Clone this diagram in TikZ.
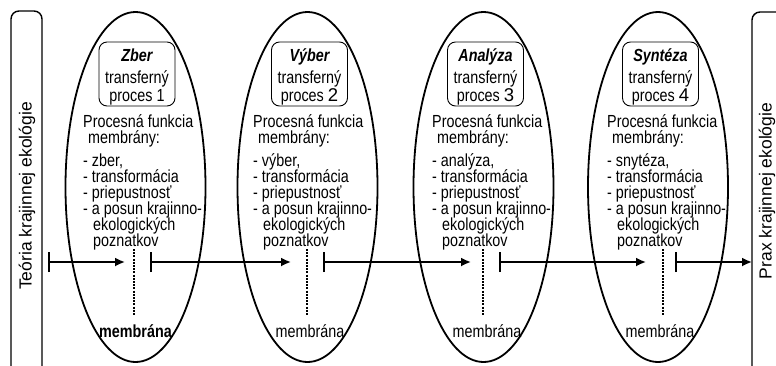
\documentclass[tikz,border=0pt]{standalone}
\usepackage{fontspec}
\setmainfont{Liberation Sans}[FakeStretch=0.82]
\newfontfamily\widefont{Liberation Sans}
\usetikzlibrary{shapes.geometric,arrows.meta}

\newcommand\procblock[1]{\vtop{\baselineskip=16pt\lineskiplimit=-100pt\lineskip=0pt
 \hbox{Procesná funkcia}\hbox{\hspace*{5pt}membrány:}\vskip7pt
 \hbox{- #1,}\hbox{- transformácia}\hbox{- priepustnosť}\hbox{- a posun krajinno-}%
 \hbox{\hspace*{10pt}ekologických}\hbox{\hspace*{10pt}poznatkov}}}
\newcommand\ctr[1]{\hbox to 0pt{\hss#1\hss}}
\newcommand\titleblock[2]{\vtop{\lineskiplimit=-100pt\lineskip=0pt\baselineskip=22pt
 \ctr{\bfseries\itshape #1}\ctr{transferný}\baselineskip=18pt\ctr{proces #2}}}
\newcommand\bigdigit[1]{{\widefont\fontsize{18.5}{18.5}\selectfont #1}}

\tikzset{
 ell/.style={draw, ellipse, line width=1.8pt, minimum width=140pt, minimum height=350pt, inner sep=0pt},
 procbox/.style={draw, rounded corners=8pt, line width=0.9pt, minimum width=76pt, minimum height=64pt, inner sep=0pt},
 boxtxt/.style={anchor=base, inner sep=0pt, font=\fontsize{17.5}{17}\selectfont},
 txt/.style={anchor=base west, inner sep=0pt, font=\fontsize{17.5}{16}\selectfont},
 memtxt/.style={anchor=base, inner sep=0pt, font=\fontsize{17.5}{16}\selectfont},
 memb/.style={line width=1.2pt, dash pattern=on 2pt off 1.2pt},
 flow/.style={line width=1.8pt, {Bar[width=20pt,line width=1.6pt]}-{Latex[length=10pt,width=9pt]}},
 bar/.style={line width=1.4pt, rounded corners=8pt},
 bartxt/.style={rotate=90, inner sep=0pt, font=\widefont\fontsize{17.5}{17}\selectfont}
}

\begin{document}
\begin{tikzpicture}[x=1pt,y=-1pt]
\useasboundingbox (0,0) rectangle (776,365);

% side bars
\draw[bar] (11,366) -- (11,11) -- (42,11) -- (42,366);
\draw[bar] (778,12) -- (752,12) -- (752,366);
\node[bartxt] (teoria) at (27,196) {Teória krajinnej ekológie};
\node[bartxt] (prax) at (767,191) {Prax krajinnej ekológie};

% ellipses
\node[ell] (E1) at (135.5,187) {};
\node[ell] (E2) at (307.5,187) {};
\node[ell] (E3) at (483.5,187) {};
\node[ell] (E4) at (658,187) {};

% title boxes
\node[procbox] (B1) at (137,74) {};
\node[procbox] (B2) at (309.5,74) {};
\node[procbox] (B3) at (485.5,74) {};
\node[procbox] (B4) at (660.5,74) {};
\node[boxtxt] (T1) at (137,61) {\titleblock{Zber}{1}};
\node[boxtxt] (T2) at (309.5,61) {\titleblock{Výber}{\bigdigit{2}}};
\node[boxtxt] (T3) at (485.5,61) {\titleblock{Analýza}{\bigdigit{3}}};
\node[boxtxt] (T4) at (660.5,61) {\titleblock{Syntéza}{\bigdigit{4}}};

% process text
\node[txt] (P1) at (83,127.5) {\procblock{zber}};
\node[txt] (P2) at (253,127.5) {\procblock{výber}};
\node[txt] (P3) at (432,127.5) {\procblock{analýza}};
\node[txt] (P4) at (607,127.5) {\procblock{snytéza}};

% membranes
\coordinate (m1a) at (134,249); \coordinate (m1b) at (134,315);
\coordinate (m2a) at (307,249); \coordinate (m2b) at (307,315);
\coordinate (m3a) at (483,249); \coordinate (m3b) at (483,315);
\coordinate (m4a) at (663,249); \coordinate (m4b) at (663,315);
\draw[memb] (m1a) -- (m1b);
\draw[memb] (m2a) -- (m2b);
\draw[memb] (m3a) -- (m3b);
\draw[memb] (m4a) -- (m4b);
\node[memtxt, font=\bfseries\fontsize{17.5}{16}\selectfont] (M1) at (135.5,337) {membrána};
\node[memtxt] (M2) at (310,337) {membrána};
\node[memtxt] (M3) at (487,337) {membrána};
\node[memtxt] (M4) at (660,337) {membrána};

% flow arrows
\coordinate (s1) at (48,262);  \coordinate (e1) at (125,262);
\coordinate (s2) at (150,262); \coordinate (e2) at (291,262);
\coordinate (s3) at (323,262); \coordinate (e3) at (471,262);
\coordinate (s4) at (499,262); \coordinate (e4) at (646,262);
\coordinate (s5) at (675,262); \coordinate (e5) at (752,262);
\draw[flow] (s1) -- (e1);
\draw[flow] (s2) -- (e2);
\draw[flow] (s3) -- (e3);
\draw[flow] (s4) -- (e4);
\draw[flow] (s5) -- (e5);
\end{tikzpicture}
\end{document}
